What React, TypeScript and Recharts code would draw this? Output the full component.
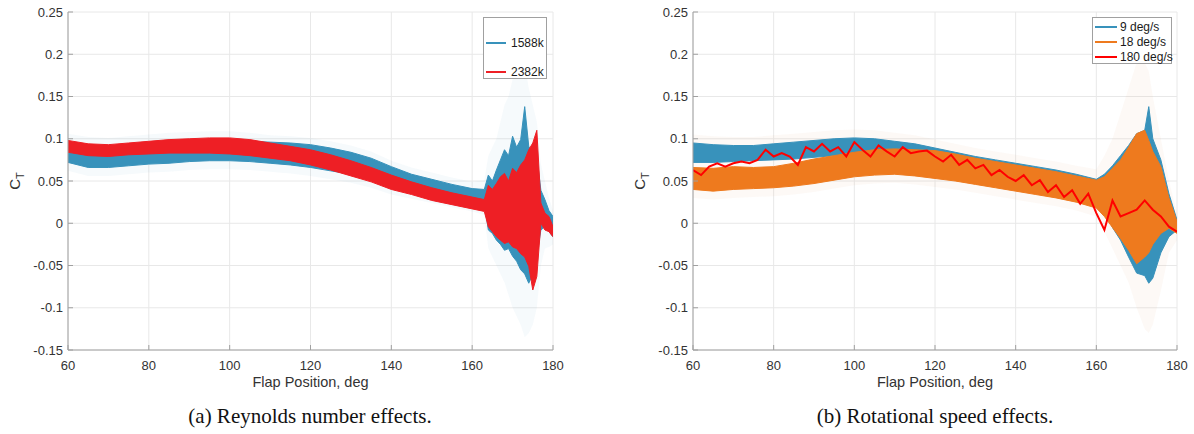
import React from 'react'
import { ComposedChart, Area, Line, XAxis, YAxis, CartesianGrid, Legend } from 'recharts'

const xTicks = [60, 80, 100, 120, 140, 160, 180]
const yTicks = [-0.15, -0.1, -0.05, 0, 0.05, 0.1, 0.15, 0.2, 0.25]

// (a) Reynolds number effects
const leftNames = ['1588k', '2382k']
const leftX = [60, 65, 70, 75, 80, 85, 90, 95, 100, 105, 110, 115, 120, 125, 130, 135, 140, 145, 150, 155, 160, 163, 164, 165, 166, 167, 168, 169, 170, 171, 172, 173, 174, 175, 176, 177, 178, 179, 180]
const blueLeftLo = [0.072, 0.066, 0.066, 0.068, 0.070, 0.071, 0.073, 0.074, 0.074, 0.073, 0.071, 0.069, 0.066, 0.062, 0.058, 0.052, 0.046, 0.041, 0.036, 0.031, 0.026, 0.024, -0.008, -0.012, -0.020, -0.025, -0.032, -0.030, -0.039, -0.045, -0.055, -0.060, -0.071, -0.060, -0.039, -0.008, -0.004, -0.010, -0.016]
const blueLeftHi = [0.092, 0.088, 0.087, 0.088, 0.090, 0.091, 0.093, 0.095, 0.096, 0.097, 0.096, 0.095, 0.093, 0.089, 0.084, 0.077, 0.067, 0.058, 0.052, 0.046, 0.041, 0.040, 0.057, 0.050, 0.063, 0.075, 0.087, 0.080, 0.103, 0.090, 0.099, 0.138, 0.091, 0.085, 0.079, 0.039, 0.028, 0.015, 0.008]
const redLeftLo = [0.084, 0.080, 0.079, 0.081, 0.082, 0.083, 0.083, 0.083, 0.082, 0.080, 0.077, 0.074, 0.069, 0.063, 0.056, 0.049, 0.040, 0.034, 0.027, 0.022, 0.017, 0.014, -0.004, -0.010, -0.016, -0.020, -0.024, -0.022, -0.028, -0.030, -0.036, -0.040, -0.051, -0.079, -0.063, 0.000, -0.008, -0.010, -0.016]
const redLeftHi = [0.098, 0.094, 0.093, 0.095, 0.097, 0.099, 0.100, 0.101, 0.101, 0.099, 0.095, 0.091, 0.087, 0.081, 0.074, 0.066, 0.057, 0.049, 0.042, 0.036, 0.031, 0.028, 0.045, 0.040, 0.047, 0.055, 0.059, 0.050, 0.065, 0.060, 0.069, 0.075, 0.087, 0.095, 0.110, 0.024, 0.012, 0.008, -0.004]
const hazeLeftLo = [0.062, 0.056, 0.056, 0.058, 0.060, 0.061, 0.063, 0.064, 0.064, 0.063, 0.061, 0.059, 0.056, 0.052, 0.048, 0.042, 0.034, 0.029, 0.024, 0.019, 0.014, 0.010, -0.030, -0.040, -0.050, -0.060, -0.070, -0.085, -0.100, -0.110, -0.120, -0.135, -0.130, -0.120, -0.100, -0.050, -0.030, -0.028, -0.025]
const hazeLeftHi = [0.106, 0.102, 0.101, 0.103, 0.105, 0.107, 0.108, 0.109, 0.109, 0.107, 0.104, 0.103, 0.101, 0.097, 0.092, 0.085, 0.074, 0.066, 0.060, 0.054, 0.049, 0.051, 0.080, 0.090, 0.100, 0.120, 0.140, 0.150, 0.170, 0.180, 0.190, 0.190, 0.160, 0.140, 0.120, 0.070, 0.050, 0.030, 0.015]

// (b) Rotational speed effects
const rightNames = ['9 deg/s', '18 deg/s', '180 deg/s']
const rightX = [60, 65, 70, 75, 80, 85, 90, 95, 100, 105, 110, 115, 120, 125, 130, 135, 140, 145, 150, 155, 160, 162, 164, 166, 168, 170, 172, 173, 174, 176, 178, 180]
const blueRightLo = [0.072, 0.072, 0.073, 0.074, 0.075, 0.076, 0.078, 0.080, 0.080, 0.079, 0.077, 0.074, 0.070, 0.066, 0.061, 0.057, 0.052, 0.048, 0.043, 0.039, 0.033, 0.020, -0.005, -0.020, -0.040, -0.059, -0.062, -0.071, -0.065, -0.035, -0.016, -0.008]
const blueRightHi = [0.095, 0.093, 0.092, 0.092, 0.094, 0.096, 0.098, 0.100, 0.101, 0.100, 0.097, 0.094, 0.089, 0.084, 0.079, 0.075, 0.071, 0.067, 0.063, 0.058, 0.052, 0.058, 0.068, 0.080, 0.092, 0.106, 0.110, 0.138, 0.100, 0.075, 0.035, 0.004]
const orangeRightLo = [0.040, 0.038, 0.040, 0.041, 0.042, 0.044, 0.047, 0.051, 0.055, 0.057, 0.058, 0.056, 0.053, 0.050, 0.046, 0.042, 0.038, 0.034, 0.030, 0.025, 0.018, 0.008, -0.005, -0.018, -0.032, -0.048, -0.040, -0.035, -0.025, -0.012, -0.006, -0.012]
const orangeRightHi = [0.066, 0.065, 0.067, 0.066, 0.067, 0.071, 0.076, 0.080, 0.084, 0.087, 0.088, 0.087, 0.086, 0.082, 0.077, 0.073, 0.069, 0.065, 0.061, 0.056, 0.051, 0.055, 0.065, 0.075, 0.090, 0.106, 0.110, 0.098, 0.085, 0.067, 0.030, 0.002]
const hazeRightLo = [0.030, 0.028, 0.030, 0.031, 0.032, 0.034, 0.037, 0.041, 0.045, 0.047, 0.048, 0.046, 0.043, 0.040, 0.036, 0.032, 0.028, 0.024, 0.020, 0.015, 0.008, -0.010, -0.030, -0.050, -0.070, -0.100, -0.125, -0.130, -0.120, -0.080, -0.035, -0.020]
const hazeRightHi = [0.105, 0.103, 0.102, 0.102, 0.104, 0.106, 0.108, 0.110, 0.111, 0.110, 0.107, 0.104, 0.099, 0.094, 0.089, 0.085, 0.081, 0.077, 0.073, 0.068, 0.064, 0.080, 0.100, 0.130, 0.160, 0.190, 0.190, 0.180, 0.150, 0.100, 0.050, 0.012]
const redRightX = [60, 62, 64, 66, 68, 70, 72, 74, 76, 78, 80, 82, 84, 86, 88, 90, 92, 94, 96, 98, 100, 102, 104, 106, 108, 110, 112, 114, 116, 118, 120, 122, 124, 126, 128, 130, 132, 134, 136, 138, 140, 142, 144, 146, 148, 150, 152, 154, 156, 158, 160, 162, 164, 166, 168, 170, 172, 174, 176, 178, 180]
const redRightY = [
  0.063, 0.057, 0.067, 0.071, 0.067, 0.071, 0.073, 0.071, 0.075, 0.087,
  0.079, 0.083, 0.079, 0.069, 0.090, 0.085, 0.094, 0.085, 0.090, 0.079,
  0.096, 0.087, 0.079, 0.092, 0.085, 0.079, 0.090, 0.083, 0.085, 0.086,
  0.079, 0.073, 0.081, 0.069, 0.075, 0.065, 0.069, 0.057, 0.063, 0.055,
  0.050, 0.057, 0.045, 0.051, 0.037, 0.045, 0.031, 0.039, 0.023, 0.035,
  0.012, -0.008, 0.027, 0.008, 0.012, 0.016, 0.027, 0.016, 0.008, -0.004, -0.010,
]

const BLUE = '#3892bb'
const RED = '#ee1f25'
const ORANGE = '#ee7a1e'
const RED2 = '#ff0000'
const AXIS = '#a0a0a0'

const leftData = leftX.map((x, i) => ({
  x,
  haze: [hazeLeftLo[i], hazeLeftHi[i]],
  blue: [blueLeftLo[i], blueLeftHi[i]],
  red: [redLeftLo[i], redLeftHi[i]],
}))
const rightData = rightX.map((x, i) => ({
  x,
  haze: [hazeRightLo[i], hazeRightHi[i]],
  blue: [blueRightLo[i], blueRightHi[i]],
  orange: [orangeRightLo[i], orangeRightHi[i]],
}))
const redRightData = redRightX.map((x, i) => ({ x, y: redRightY[i] }))

const tickStyle = { fontSize: 13, fill: '#333', fontFamily: '"Liberation Sans", Arial, sans-serif' }

function CTLabel(props: any) {
  const vb = props.viewBox
  const cx = vb.x + 12
  const cy = vb.y + vb.height / 2
  return (
    <text x={cx} y={cy} transform={`rotate(-90, ${cx}, ${cy})`} textAnchor="middle" fontSize={15} fill="#333" fontFamily='"Liberation Sans", Arial, sans-serif'>
      C<tspan dy={4} fontSize={11}>T</tspan>
    </text>
  )
}

function legendBox(names: string[], colors: string[], w: number, h: number, rows: number[], lineW: number, gap: number) {
  return () => (
    <div style={{ position: 'relative', width: w, height: h, border: `1px solid ${AXIS}`, background: '#fff', boxSizing: 'border-box', fontFamily: '"Liberation Sans", Arial, sans-serif' }}>
      {names.map((n, i) => (
        <div key={n} style={{ position: 'absolute', left: 2, top: rows[i] - 8, height: 16, display: 'flex', alignItems: 'center', fontSize: 12, color: '#1a1a1a', whiteSpace: 'nowrap' }}>
          <span style={{ display: 'inline-block', width: lineW, height: 2, background: colors[i], marginRight: gap }} />
          {n}
        </div>
      ))}
    </div>
  )
}

const axes = [
  <CartesianGrid key="g" stroke="#e8e8e8" />,
  <XAxis
    key="x"
    dataKey="x"
    type="number"
    domain={[60, 180]}
    ticks={xTicks}
    allowDataOverflow
    height={50}
    tickSize={-5}
    tickMargin={16}
    tick={tickStyle}
    axisLine={{ stroke: AXIS }}
    tickLine={{ stroke: AXIS }}
    label={{ value: 'Flap Position, deg', position: 'insideBottom', offset: 13, fontSize: 14.5, fill: '#333' }}
  />,
  <YAxis
    key="y"
    type="number"
    domain={[-0.15, 0.25]}
    ticks={yTicks}
    allowDataOverflow
    width={60}
    tickSize={-5}
    tickMargin={10}
    tick={tickStyle}
    axisLine={{ stroke: AXIS }}
    tickLine={{ stroke: AXIS }}
    label={<CTLabel />}
  />,
]

const captionStyle: React.CSSProperties = {
  position: 'absolute',
  top: 406,
  width: 600,
  textAlign: 'center',
  fontFamily: '"Liberation Serif", "Times New Roman", serif',
  fontSize: 21,
  lineHeight: '21px',
  color: '#111',
}

export default function App() {
  return (
    <div style={{ position: 'absolute', left: 0, top: 0, width: 1194, height: 434, background: '#fff', fontFamily: '"Liberation Sans", Arial, sans-serif' }}>
      <div style={{ position: 'absolute', left: 0, top: 0 }}>
        <ComposedChart width={600} height={400} data={leftData} margin={{ top: 12, right: 47, bottom: 0, left: 8 }}>
          {axes}
          <Area dataKey="haze" type="linear" stroke="none" fill={BLUE} fillOpacity={0.045} isAnimationActive={false} />
          <Area dataKey="blue" type="linear" stroke={BLUE} strokeWidth={1} fill={BLUE} fillOpacity={1} isAnimationActive={false} />
          <Area dataKey="red" type="linear" stroke={RED} strokeWidth={1} fill={RED} fillOpacity={1} isAnimationActive={false} />
          <Legend
            layout="vertical"
            align="center"
            verticalAlign="middle"
            wrapperStyle={{ left: 483, top: 17, width: 64, height: 62 }}
            content={legendBox(leftNames, [BLUE, RED], 64, 62, [25, 54], 20, 5)}
          />
        </ComposedChart>
      </div>
      <div style={{ position: 'absolute', left: 600, top: 0 }}>
        <ComposedChart width={594} height={400} data={rightData} margin={{ top: 12, right: 17, bottom: 0, left: 33 }}>
          {axes}
          <Area dataKey="haze" type="linear" stroke="none" fill="#d99a6c" fillOpacity={0.06} isAnimationActive={false} />
          <Area dataKey="blue" type="linear" stroke={BLUE} strokeWidth={1} fill={BLUE} fillOpacity={1} isAnimationActive={false} />
          <Area dataKey="orange" type="linear" stroke={ORANGE} strokeWidth={1} fill={ORANGE} fillOpacity={1} isAnimationActive={false} />
          <Line data={redRightData} dataKey="y" type="linear" stroke={RED2} strokeWidth={2} dot={false} isAnimationActive={false} />
          <Legend
            layout="vertical"
            align="center"
            verticalAlign="middle"
            wrapperStyle={{ left: 492, top: 17, width: 80, height: 47 }}
            content={legendBox(rightNames, [BLUE, ORANGE, RED2], 80, 47, [8.5, 24, 39], 22, 3)}
          />
        </ComposedChart>
      </div>
      <div style={{ ...captionStyle, left: 10 }}>(a) Reynolds number effects.</div>
      <div style={{ ...captionStyle, left: 635 }}>(b) Rotational speed effects.</div>
    </div>
  )
}
